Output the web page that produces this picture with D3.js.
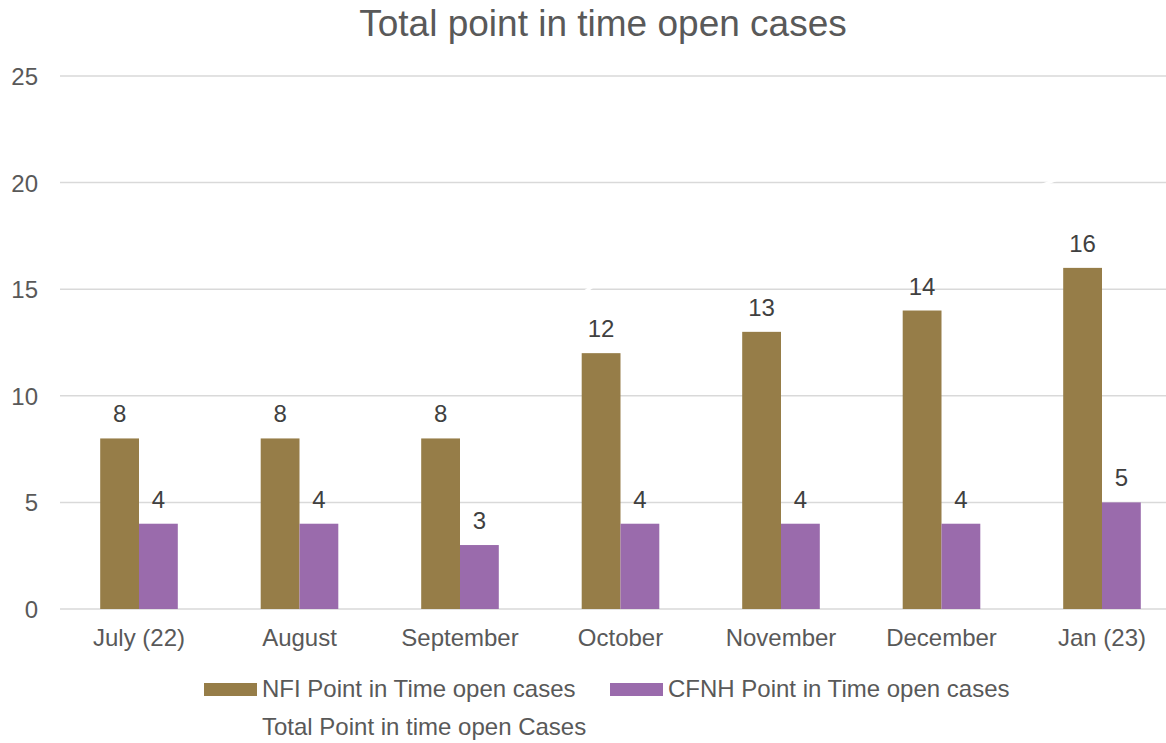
<!DOCTYPE html>
<html><head><meta charset="utf-8">
<script src="https://cdn.jsdelivr.net/npm/d3@7"></script>
<style>body{margin:0;background:#fff;}svg{display:block;font-family:"Liberation Sans",Arial,sans-serif;}</style>
</head><body>
<svg id="c" width="1166" height="743"></svg>
<script>
const categories = ["July (22)","August","September","October","November","December","Jan (23)"];
const nfi = [8,8,8,12,13,14,16];
const cfnh = [4,4,3,4,4,4,5];
const total = [12,12,11,16,17,18,21];
const yTicks = [0,5,10,15,20,25];
const seriesNames = ["NFI Point in Time open cases","CFNH Point in Time open cases","Total Point in time open Cases"];
const colors = ["#967D48","#9A6BAC","#ffffff"];

const svg = d3.select("#c");
const x = d3.scaleBand().domain(categories).range([58.75,1182.25]).paddingInner(0).paddingOuter(0);
const y = d3.scaleLinear().domain([0,25]).range([609,76]);
const bw = 38.8;

// gridlines
svg.append("g").selectAll("line").data(yTicks).join("line")
  .attr("x1",60).attr("x2",1166).attr("y1",d=>y(d)).attr("y2",d=>y(d))
  .attr("stroke","#d9d9d9").attr("stroke-width",1.5);
// y labels
svg.append("g").selectAll("text").data(yTicks).join("text")
  .attr("x",38).attr("y",d=>y(d)+9).attr("text-anchor","end")
  .attr("font-size",24).attr("fill","#595959").text(d=>d);
// x labels
svg.append("g").selectAll("text").data(categories).join("text")
  .attr("x",d=>x(d)+x.bandwidth()/2).attr("y",646).attr("text-anchor","middle")
  .attr("font-size",24).attr("fill","#595959").text(d=>d);

const cx = c => x(c)+x.bandwidth()/2;
// bars
const series = [nfi,cfnh];
series.forEach((vals,si)=>{
  const g = svg.append("g");
  g.selectAll("rect").data(categories).join("rect")
    .attr("x",c=>cx(c)-bw+si*bw).attr("width",bw)
    .attr("y",(c,i)=>y(vals[i])).attr("height",(c,i)=>y(0)-y(vals[i]))
    .attr("fill",colors[si]);
  g.selectAll("text").data(categories).join("text")
    .attr("x",c=>cx(c)-bw/2+si*bw).attr("y",(c,i)=>y(vals[i])-16)
    .attr("text-anchor","middle").attr("font-size",24).attr("fill","#404040")
    .text((c,i)=>vals[i]);
});
// total line (white)
const line = d3.line().x((d,i)=>cx(categories[i])).y(d=>y(d));
svg.append("path").datum(total).attr("d",line).attr("fill","none")
  .attr("stroke",colors[2]).attr("stroke-width",3);

// title
svg.append("text").attr("x",603).attr("y",36).attr("text-anchor","middle")
  .attr("font-size",37).attr("fill","#595959").text("Total point in time open cases");

// legend
const leg = [{sx:204,ty:697,tx:262},{sx:610,ty:697,tx:668},{sx:null,ty:735,tx:262}];
leg.forEach((l,i)=>{
  if(l.sx!==null) svg.append("rect").attr("x",l.sx).attr("y",683).attr("width",53).attr("height",13).attr("fill",colors[i]);
  svg.append("text").attr("x",l.tx).attr("y",l.ty).attr("font-size",24).attr("fill","#595959").text(seriesNames[i]);
});
</script>
</body></html>
